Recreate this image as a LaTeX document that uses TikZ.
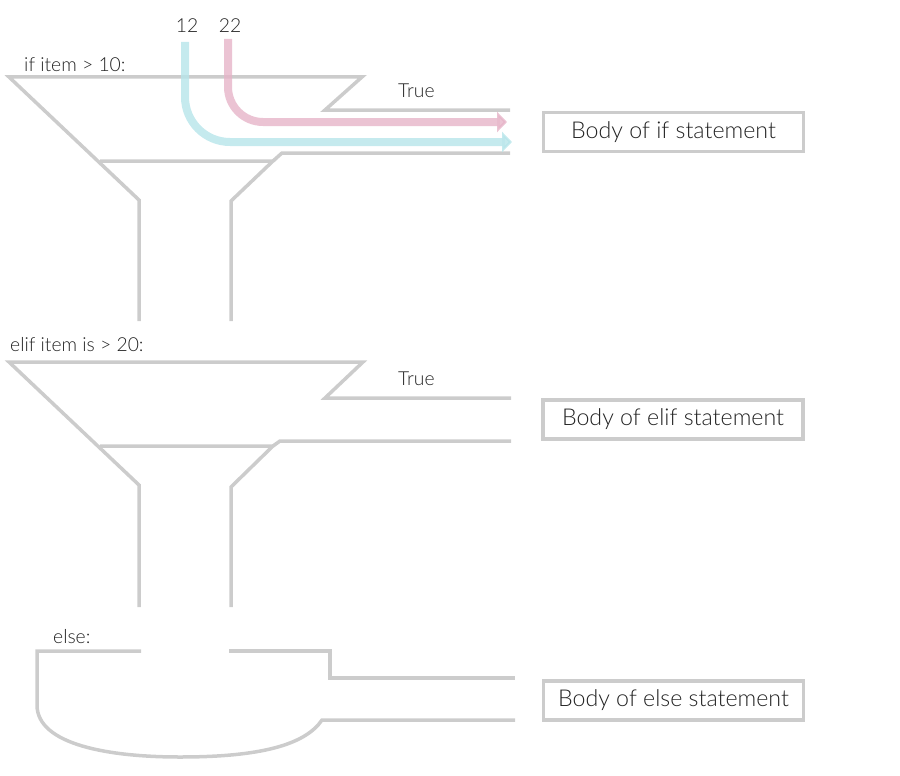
\documentclass[tikz,border=0pt]{standalone}
\usepackage{fontspec}
\setmainfont{Lato}[UprightFont=* Light]
\usetikzlibrary{arrows.meta, positioning}

\definecolor{pipegray}{RGB}{204,204,204}
\definecolor{labelgray}{RGB}{34,34,34}
\definecolor{flowcyan}{RGB}{183,229,234}
\definecolor{flowpink}{RGB}{230,180,200}

\begin{document}
\begin{tikzpicture}
    [
        x=1pt, y=-1pt,
        pipe/.style={draw=pipegray, line width=3.5pt, line join=miter},
        body/.style={rectangle, draw=pipegray, line width=3.5pt, minimum width=260pt,
            minimum height=39pt, inner sep=0pt, text=labelgray, font=\fontsize{23.2}{27}\selectfont},
        tag/.style={text=labelgray, inner sep=1pt, font=\fontsize{19.3}{23}\selectfont},
        flow/.style={line width=8pt, opacity=0.8, -{Triangle[length=10pt, width=20pt]}},
    ]
    \useasboundingbox (0,0) rectangle (900,776);

    % if funnel
    \draw[pipe] (510,110) -- (325,110) -- (362,77) -- (9,77) -- (139,200) -- (139,321);
    \draw[pipe] (100,161) -- (273,161) -- (231,201) -- (231,321);
    \draw[pipe] (273,161) -- (282,153) -- (510,153);

    % elif funnel
    \draw[pipe] (511,398) -- (325,398) -- (363,362) -- (9,362) -- (139,485) -- (139,607);
    \draw[pipe] (100,446) -- (273,446) -- (231,487) -- (231,607);
    \draw[pipe] (273,446) -- (280,441) -- (511,441);

    % else bowl
    \draw[pipe] (141,651) -- (37,651) -- (37,705)
        .. controls (37,745) and (110,757) .. (180,757)
        .. controls (260,757) and (305,745) .. (322,720) -- (515,720);
    \draw[pipe] (229,651) -- (330,651) -- (330,678) -- (515,678);

    \node[body] (ifbody) at (673.5,132) {Body of if statement};
    \node[body] (elifbody) at (673,419.5) {Body of elif statement};
    \node[body] (elsebody) at (673.5,700.5) {Body of else statement};

    \node[tag, anchor=base west] (iftest) at (23,71) {if item > 10:};
    \node[tag, anchor=base west] (eliftest) at (9,351) {elif item is > 20:};
    \node[tag, anchor=base west] (elsetest) at (52,643) {else:};
    \node[tag, anchor=base west] (iftrue) at (397,98) {True};
    \node[tag, anchor=base west] (eliftrue) at (397,385) {True};
    \node[tag, anchor=base] (twelve) at (187,33) {12};
    \node[tag, anchor=base] (twentytwo) at (230,33) {22};

    % items flowing in
    \coordinate (cyanstart) at (185,42);
    \coordinate (cyanend) at (512,142);
    \coordinate (pinkstart) at (228,39);
    \coordinate (pinkend) at (507,122);
    \draw[flow, flowcyan, rounded corners=45pt] (cyanstart) |- (cyanend);
    \draw[flow, flowpink, rounded corners=35pt] (pinkstart) |- (pinkend);
\end{tikzpicture}
\end{document}
